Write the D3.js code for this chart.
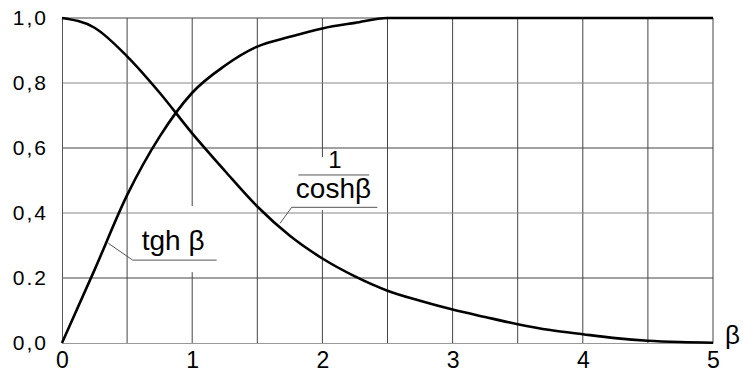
<!DOCTYPE html>
<html>
<head>
<meta charset="utf-8">
<script src="https://cdn.jsdelivr.net/npm/d3@7"></script>
<style>
  html, body { margin: 0; padding: 0; background: #fff; }
  svg { display: block; font-family: "Liberation Sans", Arial, sans-serif; }
</style>
</head>
<body>
<svg id="chart" width="743" height="372"></svg>
<script>
// β sampled every 0.25
const beta = [0, 0.25, 0.5, 0.75, 1, 1.25, 1.5, 1.75, 2, 2.25, 2.5, 2.75, 3, 3.25, 3.5, 3.75, 4, 4.25, 4.5, 4.75, 5];
// tgh β
const tghValues = [0, 0.225, 0.455, 0.635, 0.77, 0.853, 0.912, 0.942, 0.968, 0.985, 1.0, 1.0, 1.0, 1.0, 1.0, 1.0, 1.0, 1.0, 1.0, 1.0, 1.0];
// 1 / cosh β
const sechValues = [1.0, 0.97, 0.882, 0.77, 0.645, 0.53, 0.42, 0.33, 0.26, 0.205, 0.161, 0.13, 0.103, 0.08, 0.058, 0.04, 0.027, 0.015, 0.007, 0.003, 0.001];

const xTicks = [0, 1, 2, 3, 4, 5];
const xTickLabels = ["0", "1", "2", "3", "4", "5"];
const yTicks = [0, 0.2, 0.4, 0.6, 0.8, 1.0];
const yTickLabels = ["0,0", "0.2", "0,4", "0,6", "0,8", "1,0"];
const xGrid = [0.5, 1, 1.5, 2, 2.5, 3, 3.5, 4, 4.5, 5];
const yGrid = [0.2, 0.4, 0.6, 0.8, 1.0];

const svg = d3.select("#chart");
const x = d3.scaleLinear().domain([0, 5]).range([62, 713]);
const y = d3.scaleLinear().domain([0, 1]).range([343, 18]);

// vertical grid
svg.append("g").selectAll("line").data(xGrid).join("line")
  .attr("x1", d => x(d)).attr("x2", d => x(d))
  .attr("y1", y(0)).attr("y2", y(1))
  .attr("stroke", "#444").attr("stroke-width", 1);

// white backing behind the two curve labels (interrupts the vertical grid)
const masks = [
  { b0: 0.56, b1: 1.17, v0: 0.218, v1: 0.4215 },
  { b0: 1.76, b1: 2.42, v0: 0.409, v1: 0.572 }
];
svg.append("g").selectAll("rect").data(masks).join("rect")
  .attr("x", d => x(d.b0)).attr("width", d => x(d.b1) - x(d.b0))
  .attr("y", d => y(d.v1)).attr("height", d => y(d.v0) - y(d.v1))
  .attr("fill", "#fff");

// horizontal grid
svg.append("g").selectAll("line").data(yGrid).join("line")
  .attr("x1", x(0)).attr("x2", x(5))
  .attr("y1", d => y(d)).attr("y2", d => y(d))
  .attr("stroke", (d, i) => i % 2 ? "#888" : "#444").attr("stroke-width", 1);

// axes
const yAxis = svg.append("g").attr("transform", `translate(${x(0)},0)`)
  .call(d3.axisLeft(y).tickValues(yTicks).tickFormat((d, i) => yTickLabels[i]).tickSize(0).tickPadding(14));
yAxis.select(".domain").attr("stroke", "#555");
yAxis.selectAll("text").attr("font-size", 21).attr("fill", "#000")
  .attr("font-family", "Liberation Sans, Arial, sans-serif").style("letter-spacing", "2px");

const xAxis = svg.append("g").attr("transform", `translate(0,${y(0)})`)
  .call(d3.axisBottom(x).tickValues(xTicks).tickFormat((d, i) => xTickLabels[i]).tickSize(0).tickPadding(9));
xAxis.select(".domain").attr("stroke", "#999");
xAxis.selectAll("text").attr("font-size", 23).attr("fill", "#000")
  .attr("font-family", "Liberation Sans, Arial, sans-serif");

// curves
const line = d3.line().x(d => x(d[0])).y(d => y(d[1])).curve(d3.curveMonotoneX);
svg.append("path").datum(beta.map((b, i) => [b, sechValues[i]]))
  .attr("d", line).attr("fill", "none").attr("stroke", "#000").attr("stroke-width", 2.6);
svg.append("path").datum(beta.map((b, i) => [b, tghValues[i]]))
  .attr("d", line).attr("fill", "none").attr("stroke", "#000").attr("stroke-width", 2.6);

// axis name
svg.append("text").attr("x", x(5) + 12).attr("y", y(0) + 1)
  .attr("font-size", 26).text("β");

// label: tgh β
const lab = svg.append("g");
lab.append("polyline")
  .attr("points", [[0.355, 0.307], [0.543, 0.255], [1.188, 0.255]].map(p => [x(p[0]), y(p[1])].join(",")).join(" "))
  .attr("fill", "none").attr("stroke", "#555").attr("stroke-width", 1);
lab.append("text").attr("x", x(0.612)).attr("y", y(0.286))
  .attr("font-size", 28).text("tgh β");

// label: 1 / cosh β
lab.append("polyline")
  .attr("points", [[1.674, 0.368], [1.764, 0.4175], [2.422, 0.4175]].map(p => [x(p[0]), y(p[1])].join(",")).join(" "))
  .attr("fill", "none").attr("stroke", "#555").attr("stroke-width", 1);
lab.append("line")
  .attr("x1", x(1.815)).attr("x2", x(2.36)).attr("y1", y(0.517)).attr("y2", y(0.517))
  .attr("stroke", "#555").attr("stroke-width", 1);
lab.append("text").attr("x", x(2.097)).attr("y", y(0.538)).attr("text-anchor", "middle")
  .attr("font-size", 24).text("1");
lab.append("text").attr("x", x(2.085)).attr("y", y(0.445)).attr("text-anchor", "middle")
  .attr("font-size", 28).text("coshβ");
</script>
</body>
</html>
